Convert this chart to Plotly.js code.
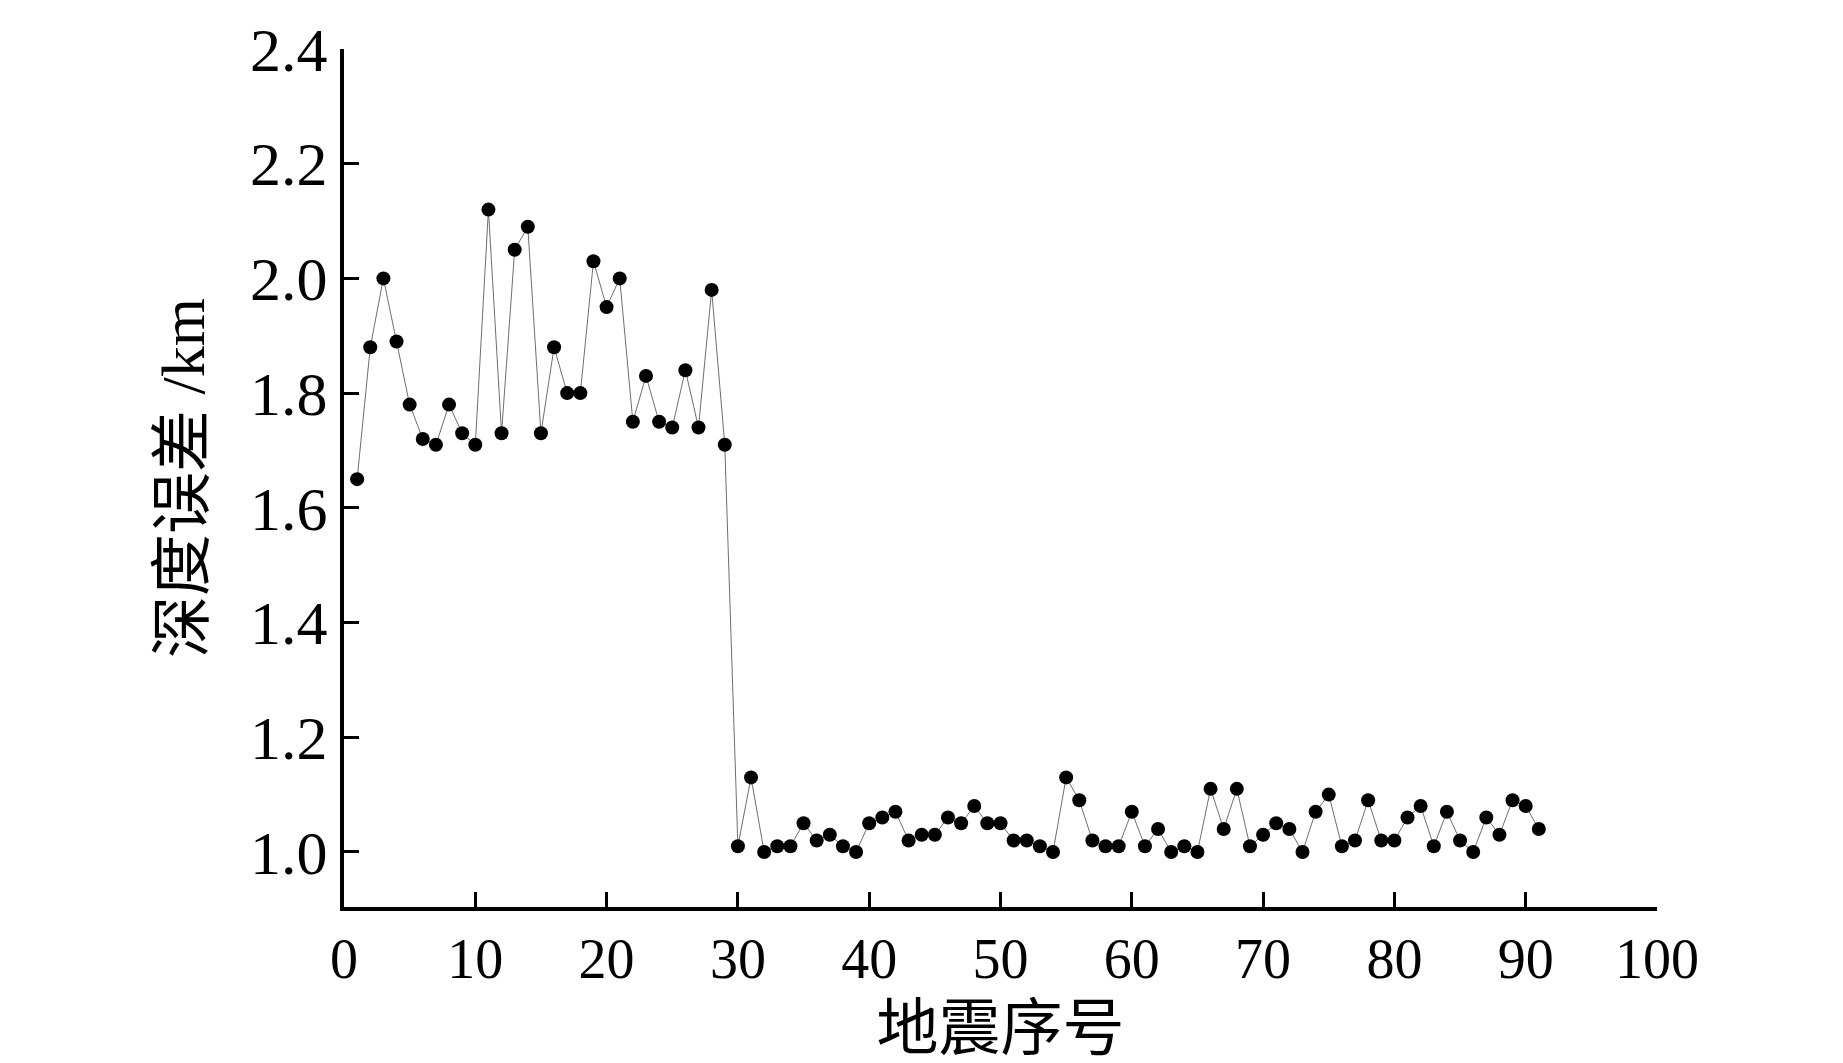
<!DOCTYPE html>
<html>
<head>
<meta charset="utf-8">
<script src="https://cdn.plot.ly/plotly-3.0.1.min.js"></script>
<style>
  html, body { margin: 0; padding: 0; background: #fff; }
  #plot { width: 1843px; height: 1063px; }
</style>
</head>
<body>
<div id="plot"></div>
<script>
// earthquake index
var quakeNo = [];
for (var i = 1; i <= 91; i++) quakeNo.push(i);

// depth error (km)
var depthErr = [
  1.65, 1.88, 2.00, 1.89, 1.78, 1.72, 1.71, 1.78, 1.73, 1.71,
  2.12, 1.73, 2.05, 2.09, 1.73, 1.88, 1.80, 1.80, 2.03, 1.95,
  2.00, 1.75, 1.83, 1.75, 1.74, 1.84, 1.74, 1.98, 1.71, 1.01,
  1.13, 1.00, 1.01, 1.01, 1.05, 1.02, 1.03, 1.01, 1.00, 1.05,
  1.06, 1.07, 1.02, 1.03, 1.03, 1.06, 1.05, 1.08, 1.05, 1.05,
  1.02, 1.02, 1.01, 1.00, 1.13, 1.09, 1.02, 1.01, 1.01, 1.07,
  1.01, 1.04, 1.00, 1.01, 1.00, 1.11, 1.04, 1.11, 1.01, 1.03,
  1.05, 1.04, 1.00, 1.07, 1.10, 1.01, 1.02, 1.09, 1.02, 1.02,
  1.06, 1.08, 1.01, 1.07, 1.02, 1.00, 1.06, 1.03, 1.09, 1.08,
  1.04
];

var xTicks = [0, 10, 20, 30, 40, 50, 60, 70, 80, 90, 100];
var yTicks = [1.0, 1.2, 1.4, 1.6, 1.8, 2.0, 2.2, 2.4];

var serif = "'Liberation Serif', 'Times New Roman', 'Noto Sans CJK SC', serif";

var trace = {
  x: quakeNo,
  y: depthErr,
  type: 'scatter',
  mode: 'lines+markers',
  line: { color: '#6e6e6e', width: 1 },
  marker: { color: '#000', size: 14, line: { width: 0 } },
  cliponaxis: false,
  showlegend: false
};

var layout = {
  width: 1843,
  height: 1063,
  margin: { l: 344, r: 186, t: 49, b: 156 },
  paper_bgcolor: '#fff',
  plot_bgcolor: '#fff',
  font: { family: serif, color: '#000' },
  xaxis: {
    range: [0, 100],
    tickvals: xTicks,
    ticktext: xTicks.map(String),
    ticks: 'inside',
    ticklen: 15,
    tickwidth: 3,
    tickcolor: '#000',
    showline: true,
    linewidth: 4,
    linecolor: '#000',
    showgrid: false,
    zeroline: false,
    tickfont: { family: serif, size: 56 },
    title: { text: '地震序号', font: { family: serif, size: 62 }, standoff: 20 }
  },
  yaxis: {
    range: [0.904, 2.4],
    tickvals: yTicks,
    ticktext: yTicks.map(function (v) { return v.toFixed(1); }),
    ticks: 'inside',
    ticklen: 15,
    tickwidth: 3,
    tickcolor: '#000',
    showline: true,
    linewidth: 4,
    linecolor: '#000',
    showgrid: false,
    zeroline: false,
    tickfont: { family: serif, size: 62 },
    title: { text: '深度误差 /km', font: { family: serif, size: 62 }, standoff: 26 }
  }
};

Plotly.newPlot('plot', [trace], layout, { staticPlot: true });
</script>
</body>
</html>
